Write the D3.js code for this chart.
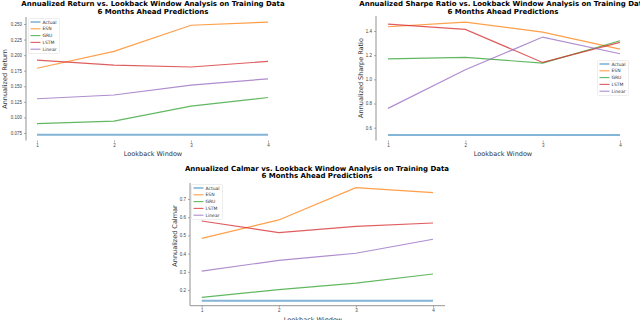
<!DOCTYPE html>
<html>
<head>
<meta charset="utf-8">
<script src="https://cdn.jsdelivr.net/npm/d3@7"></script>
<style>
  body { margin: 0; background: #fff; }
  svg { display: block; font-family: "DejaVu Sans", sans-serif; }
  .tick text { fill: #444; }
</style>
</head>
<body>
<svg id="chart" width="640" height="320"></svg>
<script>
const lookback = [1, 2, 3, 4];
const seriesNames = ["Actual", "ESN", "GRU", "LSTM", "Linear"];

// Annualized return
const returnActual = [0.072, 0.072, 0.072, 0.072];
const returnESN = [0.179, 0.206, 0.248, 0.253];
const returnGRU = [0.090, 0.094, 0.118, 0.132];
const returnLSTM = [0.192, 0.184, 0.181, 0.190];
const returnLinear = [0.130, 0.136, 0.152, 0.162];
const returnTicks = [0.075, 0.100, 0.125, 0.150, 0.175, 0.200, 0.225, 0.250];

// Annualized sharpe
const sharpeActual = [0.54, 0.54, 0.54, 0.54];
const sharpeESN = [1.435, 1.474, 1.391, 1.25];
const sharpeGRU = [1.170, 1.182, 1.135, 1.319];
const sharpeLSTM = [1.457, 1.413, 1.140, 1.306];
const sharpeLinear = [0.76, 1.079, 1.35, 1.212];
const sharpeTicks = [0.6, 0.8, 1.0, 1.2, 1.4];

// Annualized calmar
const calmarActual = [0.141, 0.141, 0.141, 0.141];
const calmarESN = [0.484, 0.585, 0.762, 0.735];
const calmarGRU = [0.160, 0.202, 0.238, 0.288];
const calmarLSTM = [0.579, 0.515, 0.550, 0.568];
const calmarLinear = [0.304, 0.363, 0.402, 0.479];
const calmarTicks = [0.2, 0.3, 0.4, 0.5, 0.6, 0.7];

const colors = ["#1f77b4", "#ff7f0e", "#2ca02c", "#d62728", "#9467bd"];

const svg = d3.select("#chart");

function drawPanel(p) {
  const g = svg.append("g");
  const x = d3.scaleLinear().domain([1, 4]).range(p.xRange);
  const y = d3.scaleLinear().domain(p.yDomain).range(p.yRange);

  // left spine
  g.append("line")
    .attr("x1", p.spineX).attr("x2", p.spineX)
    .attr("y1", p.spineTop).attr("y2", p.spineBottom)
    .attr("stroke", "#777").attr("stroke-width", 0.8);
  if (p.bottomSpine) {
    g.append("line")
      .attr("x1", p.spineX).attr("x2", p.bottomSpine)
      .attr("y1", p.spineBottom).attr("y2", p.spineBottom)
      .attr("stroke", "#777").attr("stroke-width", 0.8);
  }

  const yAxis = g.append("g")
    .attr("transform", `translate(${p.spineX},0)`)
    .call(d3.axisLeft(y).tickValues(p.ticks).tickFormat(d3.format(p.fmt)).tickSize(2).tickPadding(2));
  yAxis.select(".domain").remove();
  yAxis.selectAll("line").attr("stroke", "#777").attr("stroke-width", 0.6);
  yAxis.selectAll("text").style("font-size", "4.5px");

  const xAxis = g.append("g")
    .attr("transform", `translate(0,${p.spineBottom})`)
    .call(d3.axisBottom(x).tickValues(lookback).tickFormat(d3.format("d")).tickSize(2).tickPadding(1.5));
  xAxis.select(".domain").remove();
  xAxis.selectAll("line").attr("stroke", "#777").attr("stroke-width", 0.6);
  xAxis.selectAll("text").style("font-size", "4.5px");

  const line = d3.line().x((d, i) => x(lookback[i])).y(d => y(d));
  p.series.forEach((s, i) => {
    g.append("path")
      .datum(s)
      .attr("d", line)
      .attr("fill", "none")
      .attr("stroke", colors[i])
      .attr("stroke-opacity", i === 0 ? 0.55 : 0.75)
      .attr("stroke-width", i === 0 ? 2 : 1.2);
  });

  // titles
  g.append("text")
    .attr("x", p.titleX).attr("y", p.titleY)
    .attr("text-anchor", "middle")
    .style("font-size", "7px").style("font-weight", "bold")
    .text(p.title);
  g.append("text")
    .attr("x", p.titleX).attr("y", p.titleY + 7.4)
    .attr("text-anchor", "middle")
    .style("font-size", "7px").style("font-weight", "bold")
    .text("6 Months Ahead Predictions");

  g.append("text")
    .attr("x", p.xLabelX).attr("y", p.xLabelY)
    .attr("text-anchor", "middle")
    .style("font-size", "6.5px").attr("fill", "#333")
    .text("Lookback Window");

  g.append("text")
    .attr("transform", `translate(${p.yLabelX},${p.yLabelY}) rotate(-90)`)
    .attr("text-anchor", "middle")
    .style("font-size", "6.5px").attr("fill", "#333")
    .text(p.yLabel);

  // legend
  const lg = g.append("g").attr("transform", `translate(${p.legend[0]},${p.legend[1]})`);
  lg.append("rect")
    .attr("width", 31).attr("height", 35).attr("rx", 1)
    .attr("fill", "#fff").attr("fill-opacity", 0.8)
    .attr("stroke", "#ddd").attr("stroke-width", 0.5);
  seriesNames.forEach((name, i) => {
    const yy = 3.5 + i * 6.8;
    lg.append("line")
      .attr("x1", 2).attr("x2", 12).attr("y1", yy).attr("y2", yy)
      .attr("stroke", colors[i]).attr("stroke-opacity", i === 0 ? 0.55 : 0.75)
      .attr("stroke-width", i === 0 ? 1.6 : 1.1);
    lg.append("text")
      .attr("x", 14).attr("y", yy + 1.6)
      .style("font-size", "4.5px").attr("fill", "#333")
      .text(name);
  });
}

drawPanel({
  title: "Annualized Return vs. Lookback Window Analysis on Training Data",
  yLabel: "Annualized Return",
  series: [returnActual, returnESN, returnGRU, returnLSTM, returnLinear],
  ticks: returnTicks, fmt: ".3f",
  xRange: [37, 268], yDomain: [0.075, 0.25], yRange: [133, 24],
  spineX: 26, spineTop: 17, spineBottom: 140.5, bottomSpine: null,
  titleX: 153, titleY: 6.3, xLabelX: 153, xLabelY: 156, yLabelX: 7, yLabelY: 79,
  legend: [28.5, 18.5]
});

drawPanel({
  title: "Annualized Sharpe Ratio vs. Lookback Window Analysis on Training Data",
  yLabel: "Annualized Sharpe Ratio",
  series: [sharpeActual, sharpeESN, sharpeGRU, sharpeLSTM, sharpeLinear],
  ticks: sharpeTicks, fmt: ".1f",
  xRange: [388, 620], yDomain: [0.6, 1.4], yRange: [127.7, 31],
  spineX: 376, spineTop: 16, spineBottom: 140.5, bottomSpine: null,
  titleX: 503, titleY: 6.3, xLabelX: 503, xLabelY: 156, yLabelX: 363, yLabelY: 78,
  legend: [597.5, 60.5]
});

drawPanel({
  title: "Annualized Calmar vs. Lookback Window Analysis on Training Data",
  yLabel: "Annualized Calmar",
  series: [calmarActual, calmarESN, calmarGRU, calmarLSTM, calmarLinear],
  ticks: calmarTicks, fmt: ".1f",
  xRange: [201.7, 433], yDomain: [0.2, 0.7], yRange: [290, 199],
  spineX: 190, spineTop: 183, spineBottom: 305.7, bottomSpine: 445,
  titleX: 317, titleY: 171, xLabelX: 313, xLabelY: 322, yLabelX: 176.5, yLabelY: 236,
  legend: [191.5, 184.5]
});
</script>
</body>
</html>
